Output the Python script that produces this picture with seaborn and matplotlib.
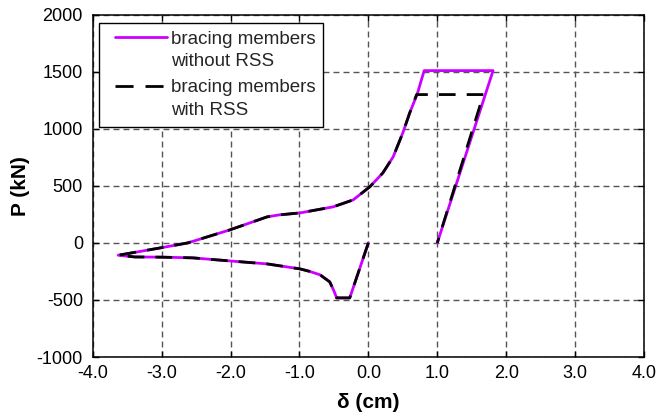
import matplotlib
matplotlib.use("Agg")
import matplotlib.pyplot as plt
from matplotlib.lines import Line2D
from matplotlib.legend_handler import HandlerLine2D
import numpy as np
import seaborn as sns
import pandas as pd

# ---- data ----
x_without = [0.00, -0.27, -0.46, -0.50, -0.56, -0.70, -0.85, -0.99, -1.47, -2.01, -2.55, -3.00, -3.39, -3.63,
             -3.02, -2.62, -2.01, -1.47, -1.30, -0.99, -0.51, -0.22, 0.02, 0.21, 0.36, 0.50, 0.60, 0.71, 0.81,
             1.81, 1.00]
y_without = [0, -482, -482, -420, -342, -280, -250, -228, -184, -158, -131, -125, -123, -108,
             -44, 0, 114, 228, 245, 263, 316, 377, 491, 613, 754, 964, 1139, 1306, 1510,
             1510, 0]

x_with = [0.00, -0.27, -0.46, -0.50, -0.56, -0.70, -0.85, -0.99, -1.47, -2.01, -2.55, -3.00, -3.39, -3.63,
          -3.02, -2.62, -2.01, -1.47, -1.30, -0.99, -0.51, -0.22, 0.02, 0.21, 0.36, 0.50, 0.60, 0.70,
          1.67, 1.00]
y_with = [0, -482, -482, -420, -342, -280, -250, -228, -184, -158, -131, -125, -123, -108,
          -44, 0, 114, 228, 245, 263, 316, 377, 491, 613, 754, 964, 1139, 1300,
          1300, 0]

label_without = "bracing members\nwithout RSS"
label_with = "bracing members\nwith RSS"
x_ticks = [-4.0, -3.0, -2.0, -1.0, 0.0, 1.0, 2.0, 3.0, 4.0]
y_ticks = [-1000, -500, 0, 500, 1000, 1500, 2000]

df_without = pd.DataFrame({"d": x_without, "P": y_without})
df_with = pd.DataFrame({"d": x_with, "P": y_with})

sns.set_theme(style="white")
plt.rcParams["font.family"] = ["Liberation Sans", "DejaVu Sans"]
plt.rcParams["axes.unicode_minus"] = False

MAGENTA = "#CC00FF"


class ShiftedHandler(HandlerLine2D):
    """Line handle aligned with the first line of a two-line label."""

    def __init__(self, dy, **kw):
        super().__init__(**kw)
        self.dy = dy

    def create_artists(self, legend, orig_handle, xdescent, ydescent, width, height, fontsize, trans):
        arts = super().create_artists(legend, orig_handle, xdescent, ydescent, width, height, fontsize, trans)
        for a in arts:
            if isinstance(a, Line2D):
                a.set_ydata(np.asarray(a.get_ydata(), dtype=float) + self.dy)
        return arts


fig = plt.figure(figsize=(6.59, 4.2), dpi=100)
ax = fig.add_axes([92.7 / 659, 1 - 357 / 420, (644 - 92.7) / 659, (357 - 14.7) / 420])

sns.lineplot(data=df_without, x="d", y="P", sort=False, estimator=None, ax=ax,
             color=MAGENTA, lw=2.0, zorder=3)
sns.lineplot(data=df_with, x="d", y="P", sort=False, estimator=None, ax=ax,
             color="black", lw=2.0, zorder=4, linestyle=(0, (6, 4)))

ax.set_xlim(-4, 4)
ax.set_ylim(-1000, 2000)
ax.set_xticks(x_ticks)
ax.set_xticklabels([f"{v:.1f}" for v in x_ticks])
ax.set_yticks(y_ticks)
ax.set_yticklabels([f"{v:d}" for v in y_ticks])

ax.grid(True, color="#555555", linestyle=(0, (4.3, 2.9)), linewidth=1.0, zorder=1)
ax.set_axisbelow(True)
for s in ax.spines.values():
    s.set_color("black")
    s.set_linewidth(1.1)
    s.set_visible(True)

ax.tick_params(axis="both", which="both", direction="in", length=4, width=1, color="black",
               labelsize=13, labelcolor="black", top=True, right=True, bottom=True, left=True)
ax.tick_params(axis="y", pad=7)
ax.tick_params(axis="x", pad=6)

ax.set_xlabel("δ (cm)", fontsize=15, fontweight="bold", color="black", labelpad=8)
ax.set_ylabel("P (kN)", fontsize=15, fontweight="bold", color="black", labelpad=5)

h_without = Line2D([], [], color=MAGENTA, lw=2.0)
h_with = Line2D([], [], color="black", lw=2.0, linestyle=(0, (6.5, 4.3)))
fs_leg = 13.5
leg = ax.legend([h_without, h_with], [label_without, label_with], loc="upper left",
                bbox_to_anchor=((99 - 92.7) / 551.3, (357 - 23) / 342.3),
                borderaxespad=0, fontsize=fs_leg, frameon=True, fancybox=False, shadow=False,
                framealpha=1, edgecolor="black", handlelength=3.2, handletextpad=0.22,
                labelspacing=0.48, borderpad=0.4,
                handler_map={h_without: ShiftedHandler(9.5, xpad=0.44),
                             h_with: ShiftedHandler(9.5, xpad=0.44)})
for t in leg.get_texts():
    t.set_linespacing(1.45)
leg.get_frame().set_linewidth(1.0)
leg.set_zorder(10)

fig.savefig("out.png", dpi=100)
